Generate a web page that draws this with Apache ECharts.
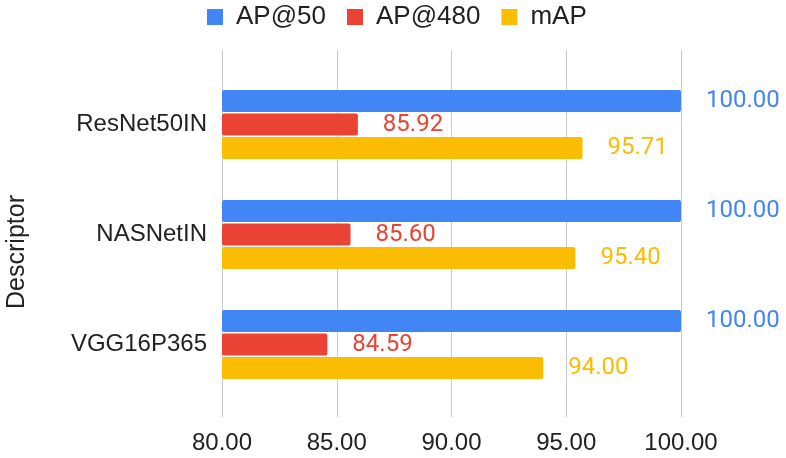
<!DOCTYPE html>
<html>
<head>
<meta charset="utf-8">
<script src="https://cdn.jsdelivr.net/npm/echarts@6/dist/echarts.min.js"></script>
<style>
  html, body { margin: 0; padding: 0; background: #fff; }
  #chart { width: 786px; height: 458px; }
</style>
</head>
<body>
<div id="chart"></div>
<script>
// Retrieval scores per descriptor
const descriptors = ['ResNet50IN', 'NASNetIN', 'VGG16P365'];
const seriesNames = ['AP@50', 'AP@480', 'mAP'];
const ap50 = [100.00, 100.00, 100.00];
const ap480 = [85.92, 85.60, 84.59];
const mAP = [95.71, 95.40, 94.00];
const xTicks = [80, 85, 90, 95, 100];

const colors = ['#4285F4', '#EA4335', '#FBBC04'];
const values = [ap50, ap480, mAP];
const textFont = 'Liberation Sans, Arial, sans-serif';

const chart = echarts.init(document.getElementById('chart'), null, { renderer: 'canvas' });

const series = seriesNames.map((name, i) => ({
  name: name,
  type: 'bar',
  xAxisIndex: 1,
  yAxisIndex: 1,
  data: values[i],
  barWidth: 22,
  barGap: '7%',
  itemStyle: { color: colors[i], borderRadius: 2 },
  label: {
    show: true,
    position: 'right',
    distance: 25,
    color: colors[i],
    fontFamily: 'Roboto, sans-serif',
    fontSize: 24,
    formatter: p => p.value.toFixed(2)
  }
}));

chart.setOption({
  animation: false,
  color: colors,
  legend: {
    data: seriesNames,
    left: 207,
    top: 4,
    padding: 0,
    itemWidth: 16,
    itemHeight: 16,
    itemGap: 21,
    icon: 'rect',
    textStyle: {
      fontFamily: textFont,
      fontSize: 26,
      color: '#222',
      padding: [0, 0, 0, 8]
    }
  },
  grid: [
    // full-height grid carrying the vertical gridlines and tick labels
    { left: 222, right: 105, top: 50, bottom: 41 },
    // grid holding the bar groups
    { left: 222, right: 105, top: 69.5, height: 330 }
  ],
  xAxis: [
    {
      gridIndex: 0,
      type: 'value',
      min: xTicks[0],
      max: xTicks[xTicks.length - 1],
      interval: 5,
      axisLine: { show: false },
      axisTick: { show: false },
      splitLine: { show: true, lineStyle: { color: '#cccccc', width: 1 } },
      axisLabel: {
        fontFamily: textFont,
        fontSize: 24,
        color: '#222',
        margin: 14,
        formatter: v => v.toFixed(2)
      }
    },
    {
      gridIndex: 1,
      type: 'value',
      min: xTicks[0],
      max: xTicks[xTicks.length - 1],
      show: false
    }
  ],
  yAxis: [
    {
      gridIndex: 0,
      type: 'value',
      show: false
    },
    {
      gridIndex: 1,
      type: 'category',
      inverse: true,
      data: descriptors,
      axisLine: { show: false },
      axisTick: { show: false },
      splitLine: { show: false },
      axisLabel: {
        fontFamily: textFont,
        fontSize: 24,
        color: '#222',
        margin: 15
      }
    }
  ],
  graphic: [
    {
      type: 'text',
      x: 17.5,
      y: 252,
      rotation: Math.PI / 2,
      style: {
        text: 'Descriptor',
        font: '25px Liberation Sans, Arial, sans-serif',
        fill: '#222',
        textAlign: 'center',
        textVerticalAlign: 'middle'
      }
    }
  ],
  series: series
});
</script>
</body>
</html>
